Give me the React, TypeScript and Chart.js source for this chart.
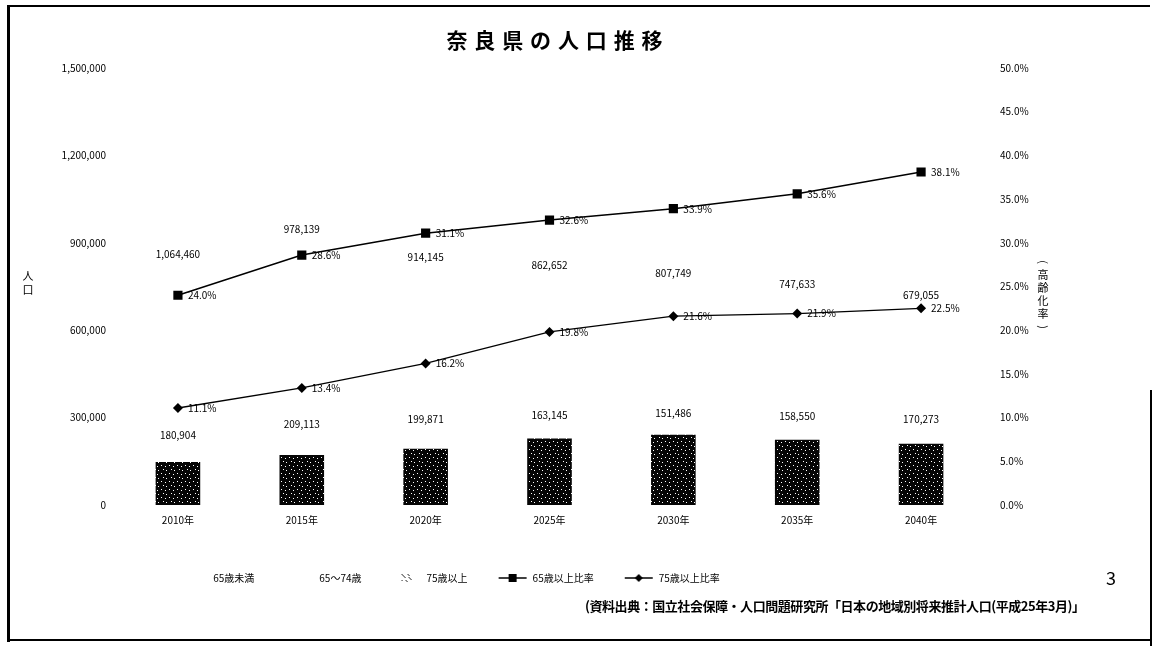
import React, { useEffect, useRef } from 'react';
import { Chart, registerables } from 'chart.js';

Chart.register(...registerables);

// ---- data ----
const years = ['2010年', '2015年', '2020年', '2025年', '2030年', '2035年', '2040年'];
const under65 = [1064460, 978139, 914145, 862652, 807749, 747633, 679055];
const age65to74 = [180904, 209113, 199871, 163145, 151486, 158550, 170273];
const age75plus = [148000, 172000, 193000, 228000, 241000, 224000, 210000];
const ratio65plus = [24.0, 28.6, 31.1, 32.6, 33.9, 35.6, 38.1];
const ratio75plus = [11.1, 13.4, 16.2, 19.8, 21.6, 21.9, 22.5];
const popAxisMax = 1500000;
const popAxisStep = 300000;
const rateAxisMax = 50;
const rateAxisStep = 5;
const titleText = '奈良県の人口推移';
const sourceText = '(資料出典：国立社会保障・人口問題研究所「日本の地域別将来推計人口(平成25年3月)」';
const pageNumber = '3';
const legendRank = [2, 1, 0, 3, 4];

const FONT = "'Noto Sans CJK JP', 'Noto Sans', sans-serif";

function makeDarkPattern(): CanvasPattern | string {
  const c = document.createElement('canvas');
  c.width = 8;
  c.height = 8;
  const g = c.getContext('2d');
  if (!g) return '#111';
  g.fillStyle = '#050505';
  g.fillRect(0, 0, 8, 8);
  g.fillStyle = '#ffffff';
  const dots = [[1, 1], [5, 2], [3, 5], [6, 6]];
  dots.forEach(([x, y]) => g.fillRect(x, y, 1, 1));
  return g.createPattern(c, 'repeat') || '#111';
}

function makeLegendImage(kind: string): HTMLCanvasElement {
  const c = document.createElement('canvas');
  c.width = 30;
  c.height = 10;
  const g = c.getContext('2d')!;
  if (kind === 'dark') {
    g.fillStyle = '#222';
    for (let i = 0; i < 12; i++) {
      g.fillRect(10 + (i * 7) % 10, 1 + (i * 3) % 8, 1, 1);
    }
  } else if (kind === 'rect' || kind === 'diamond') {
    g.strokeStyle = '#000';
    g.lineWidth = 1.5;
    g.beginPath();
    g.moveTo(1, 5);
    g.lineTo(29, 5);
    g.stroke();
    g.fillStyle = '#000';
    if (kind === 'rect') {
      g.fillRect(11, 1, 8, 8);
    } else {
      g.beginPath();
      g.moveTo(15, 1);
      g.lineTo(19, 5);
      g.lineTo(15, 9);
      g.lineTo(11, 5);
      g.closePath();
      g.fill();
    }
  }
  return c;
}

export default function App() {
  const ref = useRef<HTMLCanvasElement | null>(null);

  useEffect(() => {
    const canvas = ref.current;
    if (!canvas) return;
    const dark = makeDarkPattern();
    const legendImgs = [
      makeLegendImage('dark'),
      makeLegendImage('none'),
      makeLegendImage('none'),
      makeLegendImage('rect'),
      makeLegendImage('diamond'),
    ];

    const decor = {
      id: 'decor',
      afterLayout(chart: any) {
        const lg = chart.legend;
        if (lg) {
          const shift = 449 - (lg.left + lg.right) / 2;
          lg.left += shift;
          lg.right += shift;
        }
      },
      afterDatasetsDraw(chart: any) {
        const ctx = chart.ctx as CanvasRenderingContext2D;
        ctx.save();
        ctx.fillStyle = '#000';
        ctx.font = `10px ${FONT}`;
        const lineMeta = chart.getDatasetMeta(3);
        // bar segment labels
        [1, 2].forEach((di) => {
          const meta = chart.getDatasetMeta(di);
          const vals = chart.data.datasets[di].data as number[];
          meta.data.forEach((el: any, i: number) => {
            const { x, y, base } = el.getProps(['x', 'y', 'base'], true);
            let ly = (y + base) / 2;
            const pt = lineMeta.data[i];
            if (di === 2 && pt && Math.abs(pt.y - ly) < 14) {
              ly = pt.y - 26; // keep the label clear of the marker
            }
            ctx.textAlign = 'center';
            ctx.textBaseline = 'middle';
            ctx.fillText(vals[i].toLocaleString('en-US'), x, ly);
          });
        });
        // rate labels
        [3, 4].forEach((di) => {
          const meta = chart.getDatasetMeta(di);
          const vals = chart.data.datasets[di].data as number[];
          meta.data.forEach((el: any, i: number) => {
            const { x, y } = el.getProps(['x', 'y'], true);
            ctx.textAlign = 'left';
            ctx.textBaseline = 'middle';
            ctx.fillText(vals[i].toFixed(1) + '%', x + 10, y);
          });
        });
        ctx.restore();
      },
      afterDraw(chart: any) {
        const ctx = chart.ctx as CanvasRenderingContext2D;
        const area = chart.chartArea;
        ctx.save();
        ctx.fillStyle = '#000';
        // title with letter spacing
        ctx.font = `bold 21px ${FONT}`;
        ctx.textBaseline = 'middle';
        ctx.textAlign = 'left';
        const tw = ctx.measureText(titleText).width;
        const chars = Array.from(titleText);
        const targetW = 216;
        const gap = (targetW - tw) / (chars.length - 1);
        let cx = (area.left + area.right) / 2 + 5 - targetW / 2;
        chars.forEach((ch) => {
          ctx.fillText(ch, cx, 40);
          cx += ctx.measureText(ch).width + gap;
        });
        // left axis title (stacked vertical)
        ctx.font = `11px ${FONT}`;
        ctx.textAlign = 'center';
        ['人', '口'].forEach((ch, i) => ctx.fillText(ch, 28, 276 + i * 14));
        // right axis title (stacked vertical)
        const rchars = ['(', '高', '齢', '化', '率', ')'];
        rchars.forEach((ch, i) => {
          const yy = 262 + i * 13;
          if (ch === '(' || ch === ')') {
            ctx.save();
            ctx.translate(1043, yy);
            ctx.rotate(Math.PI / 2);
            ctx.fillText(ch, 0, 0);
            ctx.restore();
          } else {
            ctx.fillText(ch, 1043, yy);
          }
        });
        // source line
        ctx.font = `bold 13px ${FONT}`;
        ctx.textAlign = 'left';
        const sw = ctx.measureText(sourceText).width;
        const schars = Array.from(sourceText);
        const sgap = (500 - sw) / (schars.length - 1);
        let sx = 585;
        schars.forEach((ch) => {
          ctx.fillText(ch, sx, 606);
          sx += ctx.measureText(ch).width + sgap;
        });
        // page number
        ctx.font = `18px ${FONT}`;
        ctx.fillText(pageNumber, 1106, 578);
        // frame
        ctx.fillRect(7, 5, 3, 637);
        ctx.fillRect(7, 5, 1143, 2);
        ctx.fillRect(7, 639, 1145, 2);
        ctx.fillRect(1150, 390, 2, 256);
        ctx.restore();
      },
    };

    const chart = new Chart(canvas, {
      type: 'bar',
      data: {
        labels: years,
        datasets: [
          {
            label: '75歳以上',
            data: age75plus,
            backgroundColor: dark as any,
            borderWidth: 0,
            stack: 'pop',
            yAxisID: 'y',
            barPercentage: 0.36,
            categoryPercentage: 1,
          },
          {
            label: '65～74歳',
            data: age65to74,
            backgroundColor: '#ffffff',
            borderWidth: 0,
            stack: 'pop',
            yAxisID: 'y',
            barPercentage: 0.36,
            categoryPercentage: 1,
          },
          {
            label: '65歳未満',
            data: under65,
            backgroundColor: '#ffffff',
            borderWidth: 0,
            stack: 'pop',
            yAxisID: 'y',
            barPercentage: 0.36,
            categoryPercentage: 1,
          },
          {
            type: 'line',
            label: '65歳以上比率',
            data: ratio65plus,
            yAxisID: 'y1',
            borderColor: '#000',
            borderWidth: 1.5,
            backgroundColor: '#000',
            pointStyle: 'rect',
            pointRadius: 6.5,
            pointBackgroundColor: '#000',
            pointBorderWidth: 0,
            order: -1,
          } as any,
          {
            type: 'line',
            label: '75歳以上比率',
            data: ratio75plus,
            yAxisID: 'y1',
            borderColor: '#000',
            borderWidth: 1.3,
            backgroundColor: '#000',
            pointStyle: 'rectRot',
            pointRadius: 5,
            pointBackgroundColor: '#000',
            pointBorderWidth: 0,
            order: -1,
          } as any,
        ],
      },
      options: {
        responsive: false,
        animation: false,
        layout: { padding: { top: 68, bottom: 53, left: 0, right: 0 } },
        plugins: {
          title: { display: false },
          tooltip: { enabled: false },
          legend: {
            position: 'bottom',
            labels: {
              usePointStyle: true,
              pointStyleWidth: 30,
              padding: 30,
              color: '#000',
              font: { size: 10, family: FONT },
              sort: (a: any, b: any) => legendRank[a.datasetIndex] - legendRank[b.datasetIndex],
              generateLabels: (ch: any) => {
                const items = (Chart.defaults.plugins.legend.labels as any).generateLabels(ch);
                items.forEach((it: any) => {
                  it.pointStyle = legendImgs[it.datasetIndex];
                  it.fontColor = '#000';
                });
                return items;
              },
            },
          },
        },
        scales: {
          x: {
            stacked: true,
            grid: { display: false, drawTicks: false },
            border: { display: false },
            ticks: { color: '#000', font: { size: 10, family: FONT }, padding: 9 },
            afterFit: (s: any) => { s.height = 38; },
          },
          y: {
            stacked: true,
            min: 0,
            max: popAxisMax,
            position: 'left',
            grid: { display: false, drawTicks: false },
            border: { display: false },
            ticks: {
              stepSize: popAxisStep,
              color: '#000',
              padding: 10,
              font: { size: 10, family: FONT },
              callback: (v: any) => Number(v).toLocaleString('en-US'),
            },
            afterFit: (s: any) => { s.width = 116; },
          },
          y1: {
            min: 0,
            max: rateAxisMax,
            position: 'right',
            grid: { display: false, drawTicks: false },
            border: { display: false },
            ticks: {
              stepSize: rateAxisStep,
              color: '#000',
              padding: 17,
              font: { size: 10, family: FONT },
              callback: (v: any) => Number(v).toFixed(1) + '%',
            },
            afterFit: (s: any) => { s.width = 172; },
          },
        },
      },
      plugins: [decor],
    });

    return () => chart.destroy();
  }, []);

  return (
    <div style={{ position: 'fixed', left: 0, top: 0, width: 1155, height: 646, background: '#fff' }}>
      <canvas ref={ref} width={1155} height={646} style={{ display: 'block', width: 1155, height: 646 }} />
    </div>
  );
}
